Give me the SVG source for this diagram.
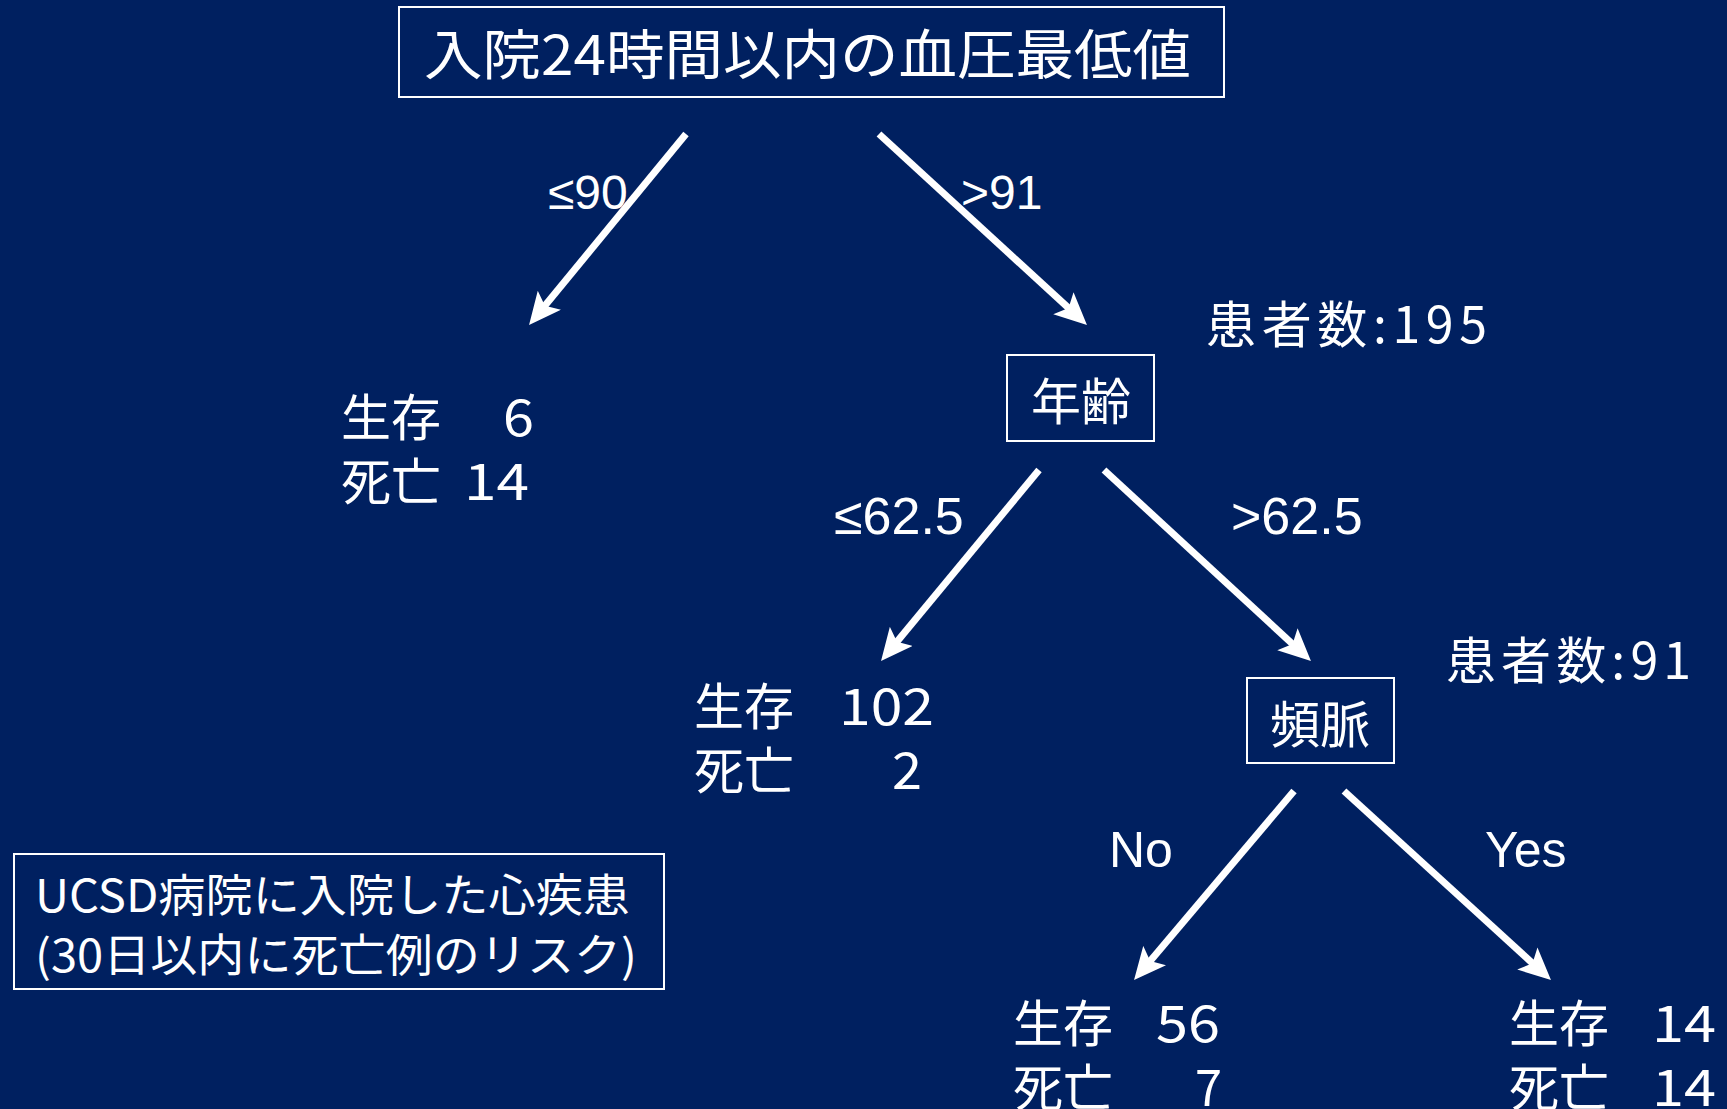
<svg xmlns="http://www.w3.org/2000/svg" width="1727" height="1109" viewBox="0 0 1727 1109">
<style>
.jp{font-family:"Noto Sans CJK JP","Noto Sans",sans-serif;fill:#fff}
.lat{font-family:"Liberation Sans",Arial,sans-serif;fill:#fff}
.box{fill:none;stroke:#fff;stroke-width:2}
.arr{stroke:#fff;stroke-width:7;fill:none;marker-end:url(#ah)}
</style>
<defs>
<marker id="ah" markerUnits="userSpaceOnUse" viewBox="0 0 32 30" refX="22" refY="15" markerWidth="32" markerHeight="30" orient="auto">
<path d="M0,0 L32,15 L0,30 L7,15 Z" fill="#fff"/>
</marker>
</defs>
<rect width="1727" height="1109" fill="#002060"/>

<g id="root">
<rect class="box" x="399" y="7" width="825" height="90"/>
<text class="jp" x="424" y="75" font-size="54" textLength="767" lengthAdjust="spacingAndGlyphs">入院24時間以内の血圧最低値</text>
</g>

<g id="leaf1">
<text class="jp" x="341" y="436" font-size="50">生存</text>
<text class="jp" x="503" y="436" font-size="50" textLength="31" lengthAdjust="spacingAndGlyphs">6</text>
<text class="jp" x="341" y="500" font-size="50">死亡</text>
<text class="jp" x="464" y="500" font-size="50" textLength="65" lengthAdjust="spacingAndGlyphs">14</text>
</g>

<g id="age">
<rect class="box" x="1007" y="355" width="147" height="86"/>
<text class="jp" x="1081" y="420" font-size="50" text-anchor="middle">年齢</text>
<text class="jp" x="1206" y="343" font-size="50" textLength="281" lengthAdjust="spacing">患者数:195</text>
</g>

<g id="leaf2">
<text class="jp" x="694" y="725" font-size="50">生存</text>
<text class="jp" x="839" y="725" font-size="50" textLength="95" lengthAdjust="spacingAndGlyphs">102</text>
<text class="jp" x="694" y="789" font-size="50">死亡</text>
<text class="jp" x="892" y="789" font-size="50" textLength="30" lengthAdjust="spacingAndGlyphs">2</text>
</g>

<g id="tachy">
<rect class="box" x="1247" y="678" width="147" height="85"/>
<text class="jp" x="1320" y="743" font-size="50" text-anchor="middle">頻脈</text>
<text class="jp" x="1446" y="679" font-size="50" textLength="245" lengthAdjust="spacing">患者数:91</text>
</g>

<g id="leaf3">
<text class="jp" x="1013" y="1042" font-size="50">生存</text>
<text class="jp" x="1156" y="1042" font-size="50" textLength="64" lengthAdjust="spacingAndGlyphs">56</text>
<text class="jp" x="1013" y="1106" font-size="50">死亡</text>
<text class="jp" x="1195" y="1106" font-size="50" textLength="27" lengthAdjust="spacingAndGlyphs">7</text>
</g>

<g id="leaf4">
<text class="jp" x="1509" y="1042" font-size="50">生存</text>
<text class="jp" x="1652" y="1042" font-size="50" textLength="64" lengthAdjust="spacingAndGlyphs">14</text>
<text class="jp" x="1509" y="1106" font-size="50">死亡</text>
<text class="jp" x="1652" y="1106" font-size="50" textLength="64" lengthAdjust="spacingAndGlyphs">14</text>
</g>

<g id="note">
<rect class="box" x="14" y="854" width="650" height="135"/>
<text class="jp" x="35" y="912" font-size="45" textLength="595" lengthAdjust="spacingAndGlyphs">UCSD病院に入院した心疾患</text>
<text class="jp" x="35" y="972" font-size="45" textLength="602" lengthAdjust="spacingAndGlyphs">(30日以内に死亡例のリスク)</text>
</g>

<g id="connectors">
<line class="arr" x1="686" y1="134" x2="535.4" y2="317.3"/>
<line class="arr" x1="879" y1="134" x2="1079.6" y2="318.2"/>
<line class="arr" x1="1039" y1="470" x2="887.4" y2="653.3"/>
<line class="arr" x1="1104" y1="470" x2="1303.6" y2="654.2"/>
<line class="arr" x1="1294" y1="791" x2="1140.5" y2="972.4"/>
<line class="arr" x1="1344" y1="791" x2="1543.6" y2="973.3"/>
<text class="lat" x="548" y="209" font-size="48">≤90</text>
<text class="lat" x="961" y="209" font-size="48">&gt;91</text>
<text class="lat" x="834" y="534" font-size="52">≤62.5</text>
<text class="lat" x="1231" y="534" font-size="52">&gt;62.5</text>
<text class="lat" x="1109" y="867" font-size="50">No</text>
<text class="lat" x="1485" y="867" font-size="50">Yes</text>
</g>
</svg>
